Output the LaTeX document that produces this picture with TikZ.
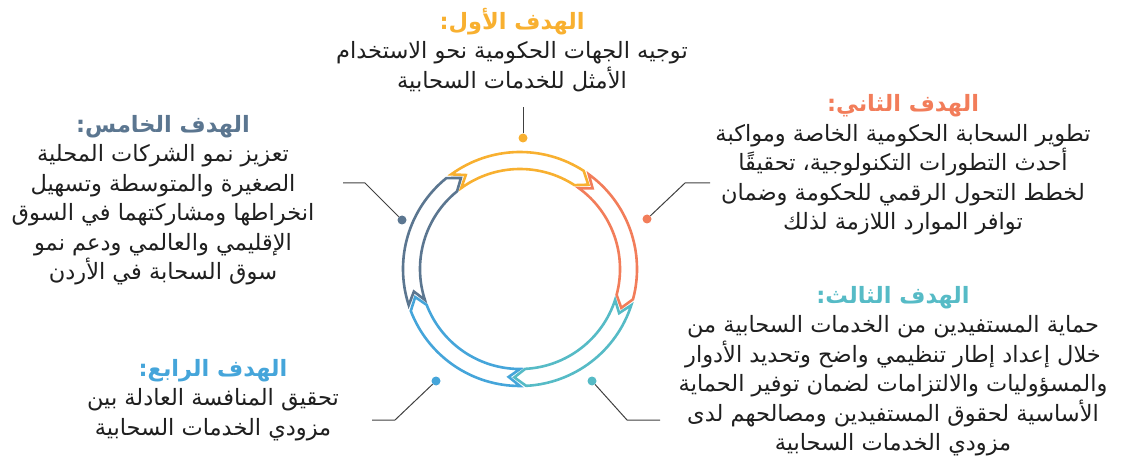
\documentclass[tikz,border=0pt]{standalone}
\usepackage{fontspec}
\usepackage{tikz}
\usetikzlibrary{calc,positioning}
\TeXXeTstate=1
\newfontfamily\arabicfont[Script=Arabic]{DejaVu Sans}
\definecolor{goalyellow}{HTML}{F8B030}
\definecolor{goalred}{HTML}{F27D5A}
\definecolor{goalteal}{HTML}{56BBC6}
\definecolor{goalblue}{HTML}{45A5DA}
\definecolor{goalslate}{HTML}{5B7690}
\definecolor{leadgray}{HTML}{404040}
\newcommand{\Ro}{117}
\newcommand{\Ri}{100}
\newcommand{\Rm}{108.5}
% one arrow of the ring: colour, tail angle, head angle
\newcommand{\ringarrow}[3]{%
  \draw[segment,draw=#1] (#2:\Ro) arc[start angle=#2,end angle=#3+3,radius=\Ro]
    -- ({#3-3}:\Rm) -- ({#3+3}:\Ri) arc[start angle=#3+3,end angle=#2,radius=\Ri]
    -- ({#2-6}:\Rm) -- cycle;}
\newcommand{\goaltitle}[2]{{\bfseries\color{#1}#2}}

\begin{document}
\begin{tikzpicture}[x=1pt,y=1pt,
				segment/.style={line width=2.6pt,fill=white,line join=miter},
				dot/.style={circle,inner sep=0pt,minimum size=9pt},
				leader/.style={draw=leadgray,line width=1pt},
				goal/.style={align=center,text=black!88,
					font=\arabicfont\fontsize{22.5}{29.5}\selectfont}
			]
			\useasboundingbox (0,0) rectangle (1126,461);
			% the ring
			\begin{scope}[shift={(520,192)}]
				\ringarrow{goalyellow}{126}{54}
				\ringarrow{goalred}{54}{-18}
				\ringarrow{goalteal}{-18}{-90}
				\ringarrow{goalblue}{-90}{-162}
				\ringarrow{goalslate}{198}{126}
			\end{scope}
			% leaders
			\node[dot,fill=goalyellow] (dotA) at (523,323) {};
			\node[dot,fill=goalred]    (dotB) at (647,242) {};
			\node[dot,fill=goalteal]   (dotC) at (592,80)  {};
			\node[dot,fill=goalblue]   (dotD) at (436,80)  {};
			\node[dot,fill=goalslate]  (dotE) at (402,241) {};
			\coordinate (endA) at (523,354);
			\coordinate (bendB) at (685,278);
			\coordinate (endB) at (710,278);
			\coordinate (bendC) at (627,41);
			\coordinate (endC) at (660,41);
			\coordinate (bendD) at (395,41);
			\coordinate (endD) at (372,41);
			\coordinate (bendE) at (365,278);
			\coordinate (endE) at (343,278);
			\draw[leader] (dotA) -- (endA);
			\draw[leader] (dotB) -- (bendB) -- (endB);
			\draw[leader] (dotC) -- (bendC) -- (endC);
			\draw[leader] (dotD) -- (bendD) -- (endD);
			\draw[leader] (dotE) -- (bendE) -- (endE);
			% goals
			\node[goal] (goalA) at (512,411) {\goaltitle{goalyellow}{\beginR الهدف الأول:\endR}\\
				\beginR توجيه الجهات الحكومية نحو الاستخدام\endR\\
				\beginR الأمثل للخدمات السحابية\endR};
			\node[goal] (goalB) at (903,296) {\goaltitle{goalred}{\beginR الهدف الثاني:\endR}\\
				\beginR تطوير السحابة الحكومية الخاصة ومواكبة\endR\\
				\beginR أحدث التطورات التكنولوجية، تحقيقًا\endR\\
				\beginR لخطط التحول الرقمي للحكومة وضمان\endR\\
				\beginR توافر الموارد اللازمة لذلك\endR};
			\node[goal] (goalC) at (893,90) {\goaltitle{goalteal}{\beginR الهدف الثالث:\endR}\\
				\beginR حماية المستفيدين من الخدمات السحابية من\endR\\
				\beginR خلال إعداد إطار تنظيمي واضح وتحديد الأدوار\endR\\
				\beginR والمسؤوليات والالتزامات لضمان توفير الحماية\endR\\
				\beginR الأساسية لحقوق المستفيدين ومصالحهم لدى\endR\\
				\beginR مزودي الخدمات السحابية\endR};
			\node[goal] (goalD) at (213,61) {\goaltitle{goalblue}{\beginR الهدف الرابع:\endR}\\
				\beginR تحقيق المنافسة العادلة بين\endR\\
				\beginR مزودي الخدمات السحابية\endR};
			\node[goal] (goalE) at (163,261) {\goaltitle{goalslate}{\beginR الهدف الخامس:\endR}\\
				\beginR تعزيز نمو الشركات المحلية\endR\\
				\beginR الصغيرة والمتوسطة وتسهيل\endR\\
				\beginR انخراطها ومشاركتهما في السوق\endR\\
				\beginR الإقليمي والعالمي ودعم نمو\endR\\
				\beginR سوق السحابة في الأردن\endR};
		\end{tikzpicture}
\end{document}
